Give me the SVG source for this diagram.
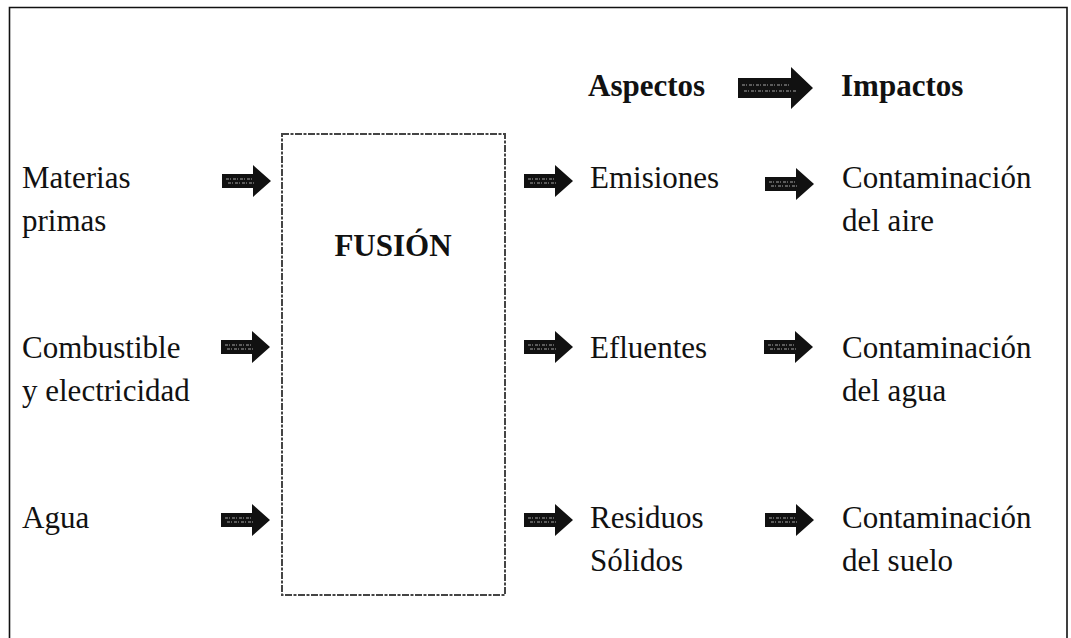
<svg xmlns="http://www.w3.org/2000/svg" width="1071" height="638" viewBox="0 0 1071 638">
<style>
  .t { font-family: "Liberation Serif", "Times New Roman", serif; font-size: 31px; fill: #111; }
  .b { font-weight: bold; }
  .frame { fill: none; stroke: #111; stroke-width: 1.6; }
  .box { fill: none; stroke: #444; stroke-width: 2; stroke-dasharray: 7 1.5 3 1.5; }
  .ar { fill: #111; }
  .sp { stroke: #ccc; stroke-width: 0.8; stroke-dasharray: 3 1 1 2; fill: none; }
</style>
<defs>
  <g id="arrowSmall">
    <polygon class="ar" points="0,-7 31,-7 31,-16 49,0 31,16 31,7 0,7"/>
    <path class="sp" d="M4,-2 H30 M6,2 H34"/>
  </g>
  <g id="arrowBig">
    <polygon class="ar" points="0,-10 53,-10 53,-21 75,0 53,21 53,10 0,10"/>
    <path class="sp" d="M4,-3 H52 M6,3 H58"/>
  </g>
</defs>
<rect width="1071" height="638" fill="#fff"/>
<path class="frame" d="M9.5,645 V7.5 H1067 V645"/>

<g id="header">
  <text class="t b" x="588" y="96">Aspectos</text>
  <text class="t b" x="841" y="96">Impactos</text>
</g>

<g id="fusion">
  <rect class="box" x="282" y="134" width="223" height="461"/>
  <text class="t b" x="393" y="256" text-anchor="middle">FUSIÓN</text>
</g>

<g id="in-materias"><text class="t" x="22" y="188">Materias</text><text class="t" x="22" y="231">primas</text></g>
<g id="in-combustible"><text class="t" x="22" y="358">Combustible</text><text class="t" x="22" y="401">y electricidad</text></g>
<g id="in-agua"><text class="t" x="22" y="528">Agua</text></g>

<g id="asp-emisiones"><text class="t" x="590" y="188">Emisiones</text></g>
<g id="asp-efluentes"><text class="t" x="590" y="358">Efluentes</text></g>
<g id="asp-residuos"><text class="t" x="590" y="528">Residuos</text><text class="t" x="590" y="571">Sólidos</text></g>

<g id="imp-aire"><text class="t" x="842" y="188">Contaminación</text><text class="t" x="842" y="231">del aire</text></g>
<g id="imp-agua"><text class="t" x="842" y="358">Contaminación</text><text class="t" x="842" y="401">del agua</text></g>
<g id="imp-suelo"><text class="t" x="842" y="528">Contaminación</text><text class="t" x="842" y="571">del suelo</text></g>

<g id="connectors">
  <use href="#arrowBig" x="738" y="88"/>
  <use href="#arrowSmall" x="222" y="181"/>
  <use href="#arrowSmall" x="221" y="347"/>
  <use href="#arrowSmall" x="221" y="520"/>
  <use href="#arrowSmall" x="524" y="181"/>
  <use href="#arrowSmall" x="524" y="347"/>
  <use href="#arrowSmall" x="524" y="520"/>
  <use href="#arrowSmall" x="765" y="184"/>
  <use href="#arrowSmall" x="764" y="347"/>
  <use href="#arrowSmall" x="765" y="520"/>
</g>
</svg>
